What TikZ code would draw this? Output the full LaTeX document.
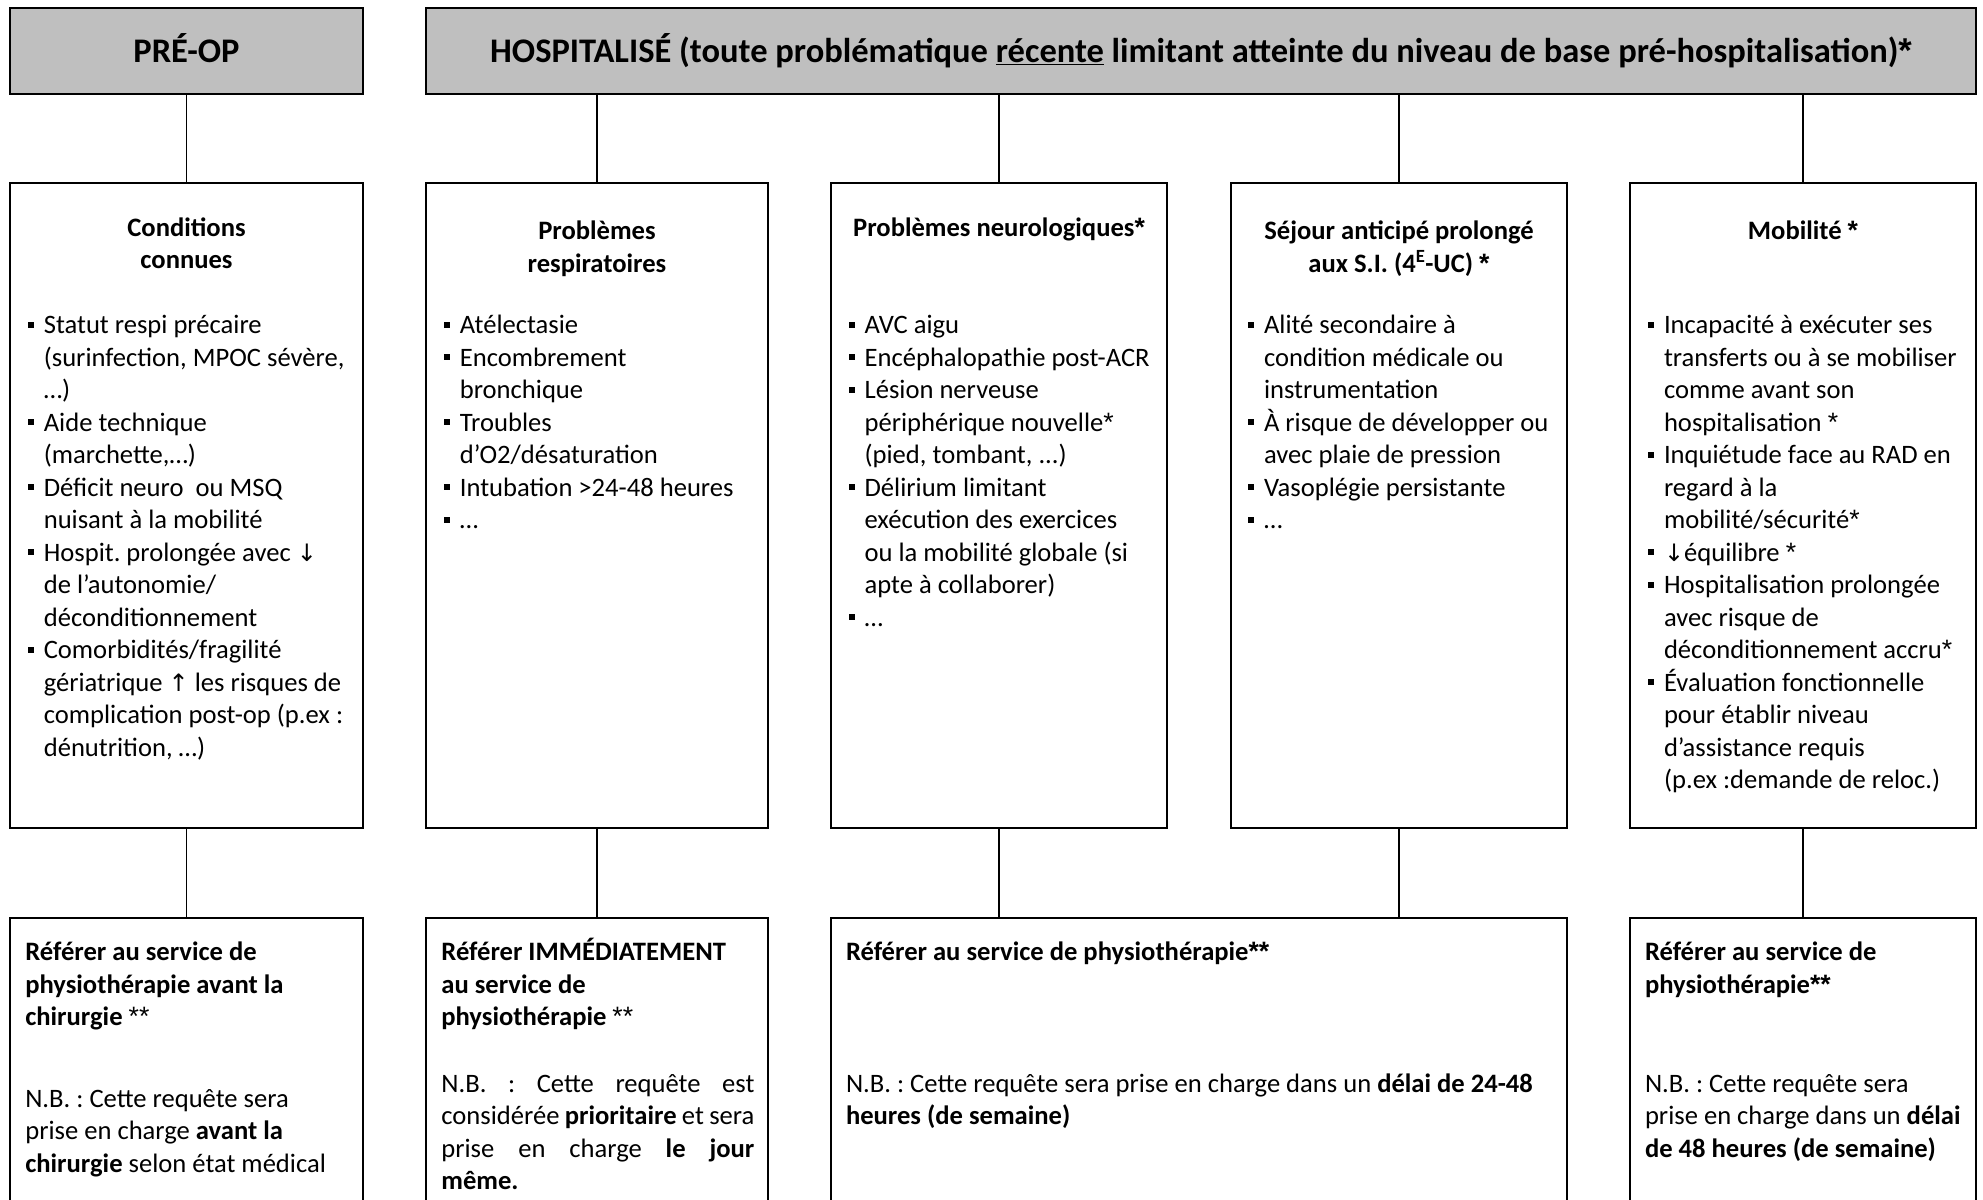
\documentclass[tikz,border=0pt]{standalone}
\usepackage{fontspec}
\setmainfont{Carlito}
\newfontfamily\arrowfont{DejaVu Sans}
\newfontfamily\astfont{Liberation Sans}
\definecolor{hdrgray}{RGB}{191,191,191}
\newcommand{\bul}{\rule[5.8pt]{6pt}{6pt}}
\newcommand{\itm}{\makebox[16pt][l]{\bul}}
\newcommand{\cnt}{\hspace*{16pt}}
\newcommand{\mydown}{{\arrowfont\fontsize{24}{30}\selectfont ↓}}
\newcommand{\myup}{{\arrowfont\fontsize{24}{30}\selectfont ↑}}
\newcommand{\st}{{\astfont *}}
\frenchspacing
\begin{document}
\begin{tikzpicture}[x=1pt,y=-1pt,
  box/.style={draw, line width=2.6pt, rectangle, anchor=north west, inner sep=0pt, outer sep=0pt},
  hdr/.style={box, fill=hdrgray, font=\bfseries\fontsize{34.5}{40}\selectfont, text height=28pt, text depth=4pt},
  conn/.style={line width=1.5pt},
  txt/.style={inner sep=0pt, outer sep=0pt, anchor=base west, font=\fontsize{26.6}{32.5}\selectfont},
  ttl/.style={inner sep=0pt, outer sep=0pt, anchor=base, font=\bfseries\fontsize{26.6}{32.5}\selectfont}]
\useasboundingbox[fill=white] (0,0) rectangle (1983,1199);

% headers
\node[hdr, minimum width=353pt, minimum height=86pt] (pre) at (10,8) {PRÉ-OP};
\node[hdr, minimum width=1550pt, minimum height=86pt] (hosp) at (426,8)
  {HOSPITALISÉ (toute problématique \underline{récente} limitant atteinte du niveau de base pré-hospitalisation)\st};

% middle boxes
\node[box, minimum width=353pt, minimum height=645pt] (mid1) at (10,183) {};
\node[box, minimum width=342pt, minimum height=645pt] (mid2) at (426,183) {};
\node[box, minimum width=336pt, minimum height=645pt] (mid3) at (831,183) {};
\node[box, minimum width=336pt, minimum height=645pt] (mid4) at (1231,183) {};
\node[box, minimum width=346pt, minimum height=645pt] (mid5) at (1630,183) {};

% bottom boxes
\node[box, minimum width=353pt, minimum height=330pt] (bot1) at (10,918) {};
\node[box, minimum width=342pt, minimum height=330pt] (bot2) at (426,918) {};
\node[box, minimum width=736pt, minimum height=330pt] (bot3) at (831,918) {};
\node[box, minimum width=346pt, minimum height=330pt] (bot4) at (1630,918) {};

% connectors
\draw[conn] (pre.south) -- (mid1.north);
\draw[conn] (mid2.north |- hosp.south) -- (mid2.north);
\draw[conn] (mid3.north |- hosp.south) -- (mid3.north);
\draw[conn] (mid4.north |- hosp.south) -- (mid4.north);
\draw[conn] (mid5.north |- hosp.south) -- (mid5.north);
\draw[conn] (mid1.south) -- (bot1.north);
\draw[conn] (mid2.south) -- (bot2.north);
\draw[conn] (mid3.south) -- (mid3.south |- bot3.north);
\draw[conn] (mid4.south) -- (mid4.south |- bot3.north);
\draw[conn] (mid5.south) -- (bot4.north);

% middle titles
\node[ttl] (t1) at (186.5,236) {\parbox[t]{340pt}{\centering Conditions\\connues}};
\node[ttl] (t2) at (597,239.5) {\parbox[t]{330pt}{\centering Problèmes\\respiratoires}};
\node[ttl] (t3) at (999,236) {\parbox[t]{330pt}{\centering Problèmes neurologiques\st}};
\node[ttl] (t4) at (1399,239.5) {\parbox[t]{330pt}{\centering Séjour anticipé prolongé\\aux S.I. (4\textsuperscript{E}-UC) \st}};
\node[ttl] (t5) at (1803,239.5) {\parbox[t]{330pt}{\centering Mobilité \st}};

% middle lists
\node[txt] (l1) at (27.8,333.5) {\parbox[t]{400pt}{\raggedright
\itm Statut respi précaire\\
\cnt (surinfection, MPOC sévère,\\
\cnt …)\\
\itm Aide technique\\
\cnt (marchette,…)\\
\itm Déficit neuro~ ou MSQ\\
\cnt nuisant à la mobilité\\
\itm Hospit. prolongée avec \mydown\\
\cnt de l’autonomie/\\
\cnt déconditionnement\\
\itm Comorbidités/fragilité\\
\cnt gériatrique \myup{} les risques de\\
\cnt complication post-op (p.ex :\\
\cnt dénutrition, …)}};

\node[txt] (l2) at (443.9,333.5) {\parbox[t]{400pt}{\raggedright
\itm Atélectasie\\
\itm Encombrement\\
\cnt bronchique\\
\itm Troubles\\
\cnt d’O2/désaturation\\
\itm Intubation >24-48 heures\\
\itm …}};

\node[txt] (l3) at (848.6,333.5) {\parbox[t]{400pt}{\raggedright
\itm AVC aigu\\
\itm Encéphalopathie post-ACR\\
\itm Lésion nerveuse\\
\cnt périphérique nouvelle\st\\
\cnt (pied, tombant, ...)\\
\itm Délirium limitant\\
\cnt exécution des exercices\\
\cnt ou la mobilité globale (si\\
\cnt apte à collaborer)\\
\itm …}};

\node[txt] (l4) at (1248,333.5) {\parbox[t]{400pt}{\raggedright
\itm Alité secondaire à\\
\cnt condition médicale ou\\
\cnt instrumentation\\
\itm À risque de développer ou\\
\cnt avec plaie de pression\\
\itm Vasoplégie persistante\\
\itm …}};

\node[txt] (l5) at (1648,333.5) {\parbox[t]{400pt}{\raggedright
\itm Incapacité à exécuter ses\\
\cnt transferts ou à se mobiliser\\
\cnt comme avant son\\
\cnt hospitalisation \st\\
\itm Inquiétude face au RAD en\\
\cnt regard à la\\
\cnt mobilité/sécurité\st\\
\itm \mydown équilibre \st\\
\itm Hospitalisation prolongée\\
\cnt avec risque de\\
\cnt déconditionnement accru\st\\
\itm Évaluation fonctionnelle\\
\cnt pour établir niveau\\
\cnt d’assistance requis\\
\cnt (p.ex :demande de reloc.)}};

% bottom texts
\node[txt] (r1) at (25.3,960.5) {\parbox[t]{400pt}{\raggedright\bfseries
Référer au service de\\
physiothérapie avant la\\
chirurgie \mdseries \st\st}};
\node[txt] (n1) at (25.3,1107) {\parbox[t]{400pt}{\raggedright
N.B. : Cette requête sera\\
prise en charge \textbf{avant la}\\
\textbf{chirurgie} selon état médical}};

\node[txt] (r2) at (441.4,960.5) {\parbox[t]{400pt}{\raggedright\bfseries
Référer IMMÉDIATEMENT\\
au service de\\
physiothérapie \mdseries \st\st}};
\node[txt] (n2) at (441.4,1092) {\parbox[t]{313pt}{N.B. : Cette requête est\linebreak
considérée \textbf{prioritaire} et sera\linebreak
prise en charge \textbf{le jour}\linebreak
\textbf{même.}}};

\node[txt] (r3) at (846,960.5) {\parbox[t]{700pt}{\raggedright\bfseries
Référer au service de physiothérapie\st\st}};
\node[txt] (n3) at (846,1092) {\parbox[t]{700pt}{\raggedright
N.B. : Cette requête sera prise en charge dans un \textbf{délai de 24-48}\\
\textbf{heures (de semaine)}}};

\node[txt] (r4) at (1645,960.5) {\parbox[t]{400pt}{\raggedright\bfseries
Référer au service de\\
physiothérapie\st\st}};
\node[txt] (n4) at (1645,1092) {\parbox[t]{400pt}{\raggedright
N.B. : Cette requête sera\\
prise en charge dans un \textbf{délai}\\
\textbf{de 48 heures (de semaine)}}};
\end{tikzpicture}
\end{document}
